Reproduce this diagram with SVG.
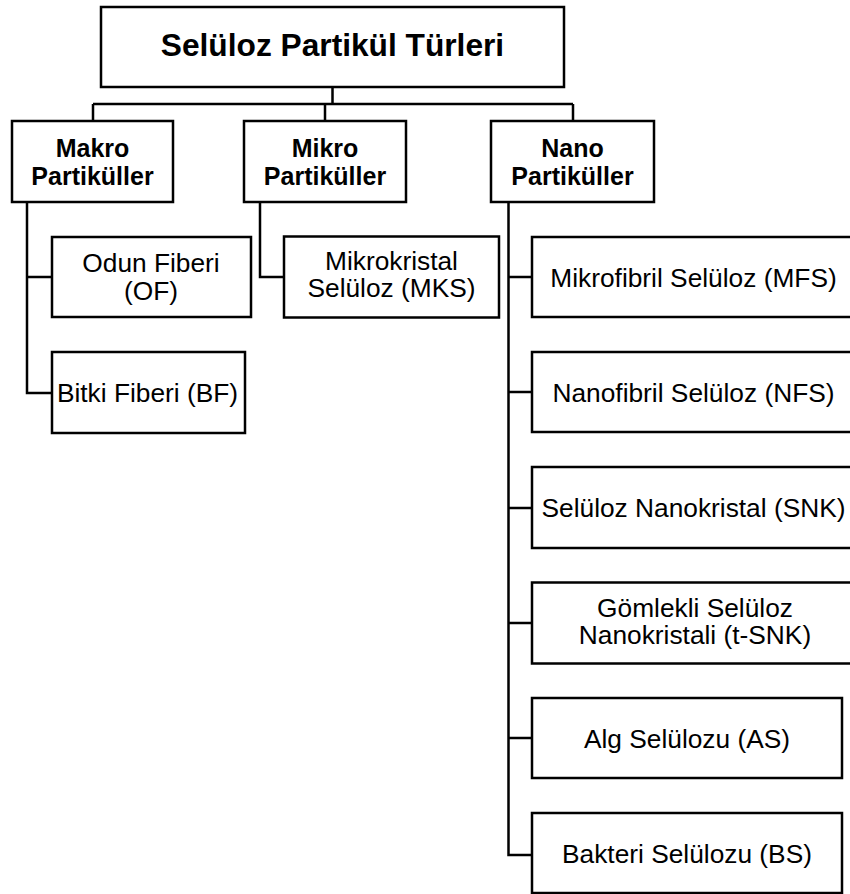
<svg xmlns="http://www.w3.org/2000/svg" width="850" height="894" viewBox="0 0 850 894">
<style>
.box{fill:#fff;stroke:#000;stroke-width:2.5}
.con{fill:none;stroke:#000;stroke-width:2.5}
text{font-family:"Liberation Sans",Arial,sans-serif;fill:#000;text-anchor:middle}
.t{font-size:31.7px;font-weight:bold}
.h{font-size:25px;font-weight:bold}
.r{font-size:26.3px}
</style>
<rect width="850" height="894" fill="#fff"/>
<g id="connectors">
<path class="con" d="M332.5 87 V104 M93 104 H573 M93 104 V121 M325 104 V121 M573 104 V121"/>
<path class="con" d="M27 202 V393 H52 M27 277 H52"/>
<path class="con" d="M260 202 V277 H284"/>
<path class="con" d="M508.5 202 V855 H532 M508.5 277 H532 M508.5 392 H532 M508.5 508 H532 M508.5 623 H532 M508.5 738 H532"/>
</g>
<g id="root"><rect class="box" x="101" y="7" width="463" height="80"/><text class="t" x="332.5" y="56">Selüloz Partikül Türleri</text></g>
<g id="makro"><rect class="box" x="12" y="121" width="161" height="81"/><text class="h" x="92.5" y="157">Makro</text><text class="h" x="92.5" y="185">Partiküller</text></g>
<g id="mikro"><rect class="box" x="244" y="121" width="162" height="81"/><text class="h" x="325" y="157">Mikro</text><text class="h" x="325" y="185">Partiküller</text></g>
<g id="nano"><rect class="box" x="491" y="121" width="163" height="81"/><text class="h" x="572.5" y="157">Nano</text><text class="h" x="572.5" y="185">Partiküller</text></g>
<g id="of"><rect class="box" x="52" y="237" width="199" height="80"/><text class="r" x="151" y="272.2">Odun Fiberi</text><text class="r" x="151" y="299.8">(OF)</text></g>
<g id="bf"><rect class="box" x="52" y="352" width="193" height="81"/><text class="r" x="147.5" y="401.5">Bitki Fiberi (BF)</text></g>
<g id="mks"><rect class="box" x="284" y="236.5" width="215" height="81"/><text class="r" x="391.5" y="269.6">Mikrokristal</text><text class="r" x="391.5" y="297.2">Selüloz (MKS)</text></g>
<g id="mfs"><rect class="box" x="532" y="237" width="323" height="80"/><text class="r" x="693.5" y="286.5">Mikrofibril Selüloz (MFS)</text></g>
<g id="nfs"><rect class="box" x="532" y="352" width="323" height="80"/><text class="r" x="693.5" y="401.5">Nanofibril Selüloz (NFS)</text></g>
<g id="snk"><rect class="box" x="532" y="467" width="323" height="81"/><text class="r" x="693.5" y="517">Selüloz Nanokristal (SNK)</text></g>
<g id="tsnk"><rect class="box" x="532" y="582.5" width="323" height="81"/><text class="r" x="695" y="616.5">Gömlekli Selüloz</text><text class="r" x="695" y="644">Nanokristali (t-SNK)</text></g>
<g id="as"><rect class="box" x="532" y="698" width="310" height="80"/><text class="r" x="687" y="747.5">Alg Selülozu (AS)</text></g>
<g id="bs"><rect class="box" x="532" y="813" width="310" height="80"/><text class="r" x="687" y="862.5">Bakteri Selülozu (BS)</text></g>
</svg>
